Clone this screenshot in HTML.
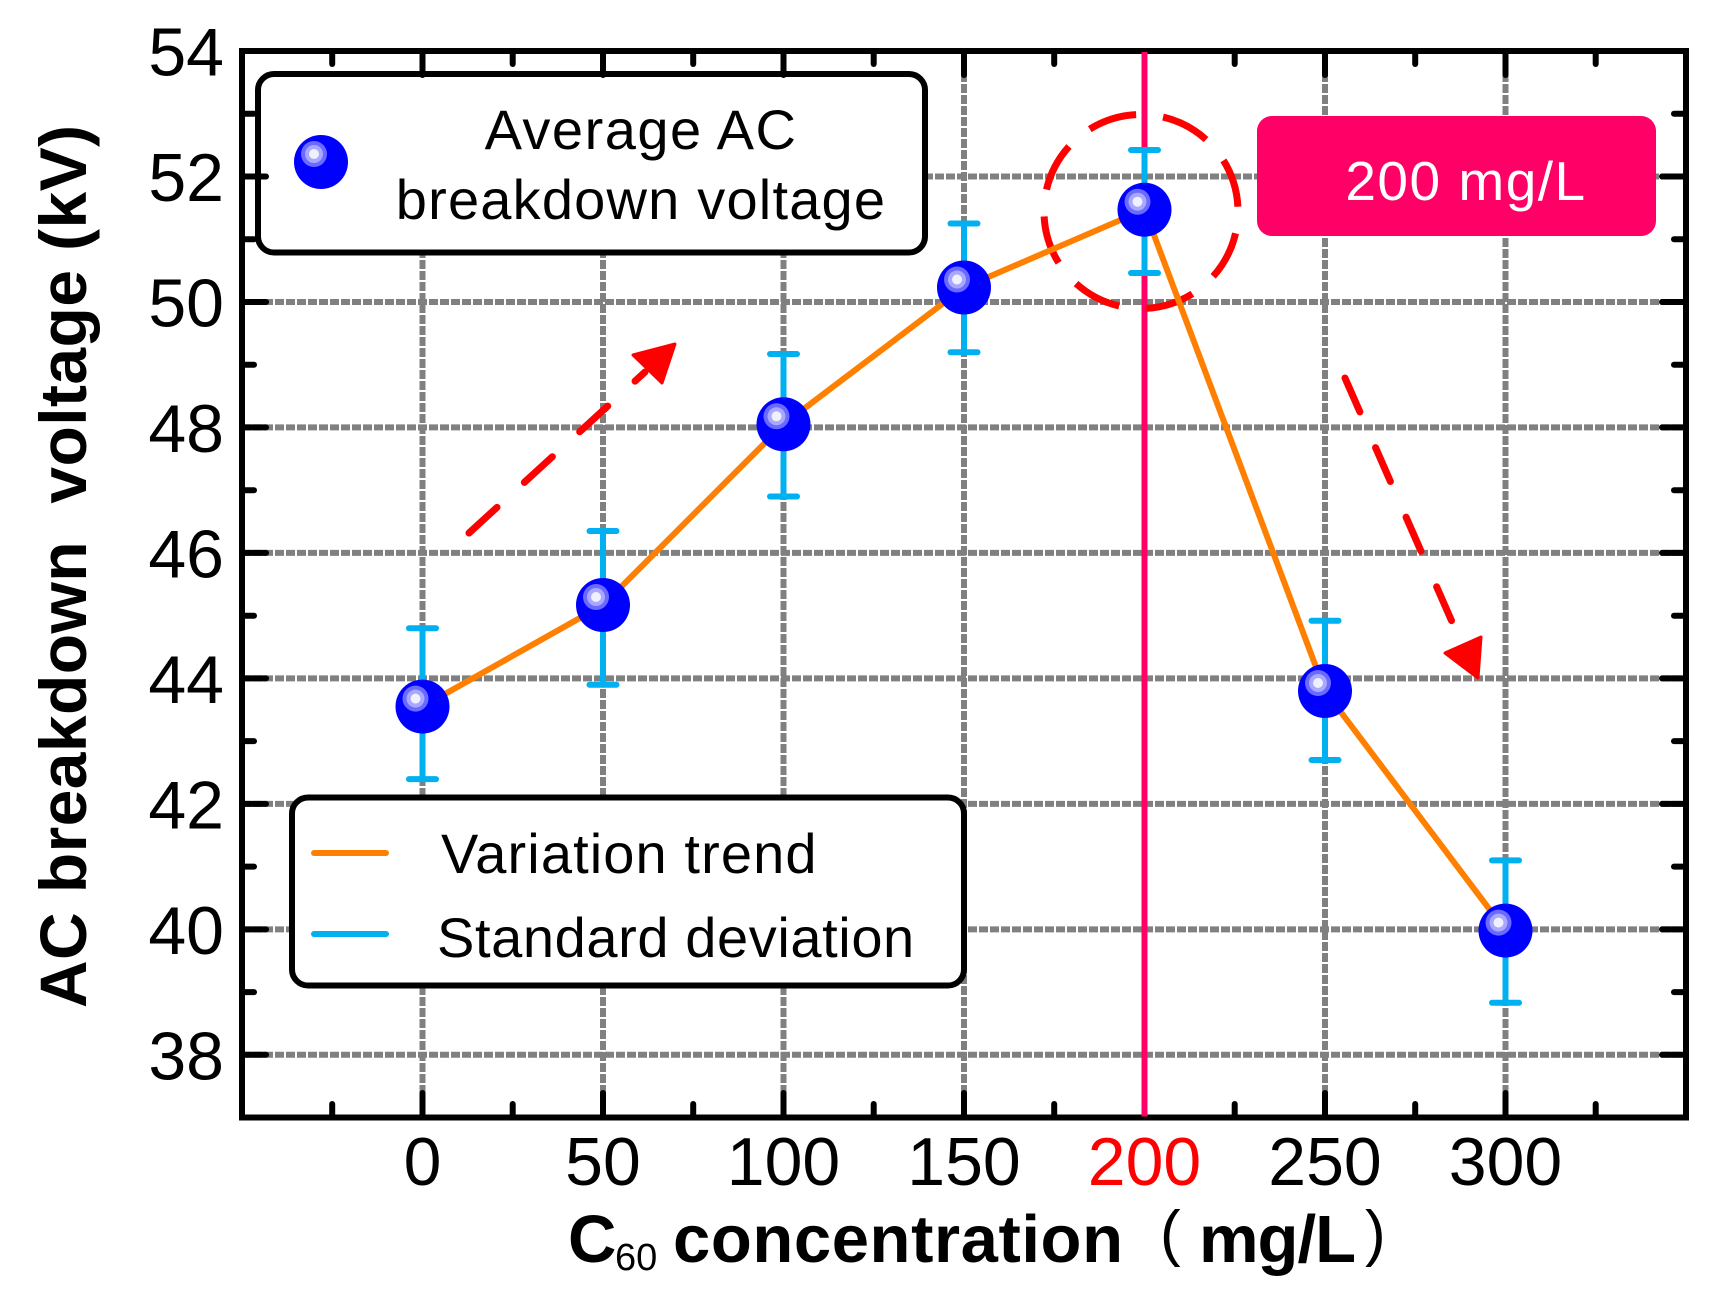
<!DOCTYPE html>
<html>
<head>
<meta charset="utf-8">
<style>
  html, body { margin: 0; padding: 0; background: #ffffff; }
  svg { display: block; }
  text { font-family: "Liberation Sans", Arial, sans-serif; }
</style>
</head>
<body>
<svg width="1725" height="1295" viewBox="0 0 1725 1295" xmlns="http://www.w3.org/2000/svg">
  <rect x="0" y="0" width="1725" height="1295" fill="#ffffff"/>

  <g stroke="#808080" stroke-width="6" stroke-dasharray="9 2" fill="none">
    <line x1="422.5" y1="51" x2="422.5" y2="1117.5"/>
    <line x1="603" y1="51" x2="603" y2="1117.5"/>
    <line x1="783.5" y1="51" x2="783.5" y2="1117.5"/>
    <line x1="964" y1="51" x2="964" y2="1117.5"/>
    <line x1="1144.5" y1="51" x2="1144.5" y2="1117.5"/>
    <line x1="1325" y1="51" x2="1325" y2="1117.5"/>
    <line x1="1505.5" y1="51" x2="1505.5" y2="1117.5"/>
    <line x1="242" y1="176.5" x2="1686" y2="176.5"/>
    <line x1="242" y1="302" x2="1686" y2="302"/>
    <line x1="242" y1="427.4" x2="1686" y2="427.4"/>
    <line x1="242" y1="552.9" x2="1686" y2="552.9"/>
    <line x1="242" y1="678.4" x2="1686" y2="678.4"/>
    <line x1="242" y1="803.9" x2="1686" y2="803.9"/>
    <line x1="242" y1="929.4" x2="1686" y2="929.4"/>
    <line x1="242" y1="1054.8" x2="1686" y2="1054.8"/>
  </g>

  <rect x="258" y="74" width="667" height="178.5" rx="16" ry="16" fill="#ffffff" stroke="#000000" stroke-width="6"/>
  <g transform="translate(321,162)">
    <circle cx="0" cy="0" r="27" fill="#0000FF"/>
    <circle cx="-7" cy="-8" r="13" fill="#6A6AFF"/>
    <circle cx="-7" cy="-8" r="9" fill="#A8A8FF"/>
    <circle cx="-7" cy="-8" r="5" fill="#F0F0FF"/>
  </g>
  <text x="641" y="149" font-size="56" text-anchor="middle" letter-spacing="1.5" fill="#000">Average AC</text>
  <text x="641" y="219" font-size="56" text-anchor="middle" letter-spacing="1.2" fill="#000">breakdown voltage</text>

  <rect x="292" y="797.5" width="672" height="188" rx="16" ry="16" fill="#ffffff" stroke="#000000" stroke-width="6"/>
  <line x1="314" y1="853" x2="386" y2="853" stroke="#FF8000" stroke-width="6" stroke-linecap="round"/>
  <line x1="314" y1="934" x2="386" y2="934" stroke="#00B0F0" stroke-width="6" stroke-linecap="round"/>
  <text x="441" y="873" font-size="56" letter-spacing="1.1" fill="#000">Variation trend</text>
  <text x="437" y="957" font-size="56" letter-spacing="0.6" fill="#000">Standard deviation</text>

  <rect x="1257" y="116" width="399" height="120" rx="15" ry="15" fill="#FF0066"/>
  <text x="1466" y="200" font-size="55" text-anchor="middle" letter-spacing="1.5" fill="#ffffff">200 mg/L</text>

  <rect x="242" y="51" width="1444" height="1066.5" fill="none" stroke="#000000" stroke-width="6"/>

  <g stroke="#000000" stroke-width="6" stroke-linecap="round">
    <line x1="242" y1="176.5" x2="266" y2="176.5"/>
    <line x1="242" y1="302" x2="266" y2="302"/>
    <line x1="242" y1="427.4" x2="266" y2="427.4"/>
    <line x1="242" y1="552.9" x2="266" y2="552.9"/>
    <line x1="242" y1="678.4" x2="266" y2="678.4"/>
    <line x1="242" y1="803.9" x2="266" y2="803.9"/>
    <line x1="242" y1="929.4" x2="266" y2="929.4"/>
    <line x1="242" y1="1054.8" x2="266" y2="1054.8"/>
    <line x1="242" y1="113.7" x2="254" y2="113.7"/>
    <line x1="242" y1="239.2" x2="254" y2="239.2"/>
    <line x1="242" y1="364.7" x2="254" y2="364.7"/>
    <line x1="242" y1="490.2" x2="254" y2="490.2"/>
    <line x1="242" y1="615.7" x2="254" y2="615.7"/>
    <line x1="242" y1="741.1" x2="254" y2="741.1"/>
    <line x1="242" y1="866.6" x2="254" y2="866.6"/>
    <line x1="242" y1="992.1" x2="254" y2="992.1"/>
    <line x1="1686" y1="176.5" x2="1662" y2="176.5"/>
    <line x1="1686" y1="302" x2="1662" y2="302"/>
    <line x1="1686" y1="427.4" x2="1662" y2="427.4"/>
    <line x1="1686" y1="552.9" x2="1662" y2="552.9"/>
    <line x1="1686" y1="678.4" x2="1662" y2="678.4"/>
    <line x1="1686" y1="803.9" x2="1662" y2="803.9"/>
    <line x1="1686" y1="929.4" x2="1662" y2="929.4"/>
    <line x1="1686" y1="1054.8" x2="1662" y2="1054.8"/>
    <line x1="1686" y1="113.7" x2="1674" y2="113.7"/>
    <line x1="1686" y1="239.2" x2="1674" y2="239.2"/>
    <line x1="1686" y1="364.7" x2="1674" y2="364.7"/>
    <line x1="1686" y1="490.2" x2="1674" y2="490.2"/>
    <line x1="1686" y1="615.7" x2="1674" y2="615.7"/>
    <line x1="1686" y1="741.1" x2="1674" y2="741.1"/>
    <line x1="1686" y1="866.6" x2="1674" y2="866.6"/>
    <line x1="1686" y1="992.1" x2="1674" y2="992.1"/>
    <line x1="422.5" y1="1117.5" x2="422.5" y2="1093"/>
    <line x1="603" y1="1117.5" x2="603" y2="1093"/>
    <line x1="783.5" y1="1117.5" x2="783.5" y2="1093"/>
    <line x1="964" y1="1117.5" x2="964" y2="1093"/>
    <line x1="1325" y1="1117.5" x2="1325" y2="1093"/>
    <line x1="1505.5" y1="1117.5" x2="1505.5" y2="1093"/>
    <line x1="332.2" y1="1117.5" x2="332.2" y2="1104"/>
    <line x1="512.7" y1="1117.5" x2="512.7" y2="1104"/>
    <line x1="693.2" y1="1117.5" x2="693.2" y2="1104"/>
    <line x1="873.7" y1="1117.5" x2="873.7" y2="1104"/>
    <line x1="1054.2" y1="1117.5" x2="1054.2" y2="1104"/>
    <line x1="1234.7" y1="1117.5" x2="1234.7" y2="1104"/>
    <line x1="1415.2" y1="1117.5" x2="1415.2" y2="1104"/>
    <line x1="1595.7" y1="1117.5" x2="1595.7" y2="1104"/>
    <line x1="422.5" y1="51" x2="422.5" y2="75"/>
    <line x1="603" y1="51" x2="603" y2="75"/>
    <line x1="783.5" y1="51" x2="783.5" y2="75"/>
    <line x1="964" y1="51" x2="964" y2="75"/>
    <line x1="1325" y1="51" x2="1325" y2="75"/>
    <line x1="1505.5" y1="51" x2="1505.5" y2="75"/>
    <line x1="332.2" y1="51" x2="332.2" y2="64"/>
    <line x1="512.7" y1="51" x2="512.7" y2="64"/>
    <line x1="693.2" y1="51" x2="693.2" y2="64"/>
    <line x1="873.7" y1="51" x2="873.7" y2="64"/>
    <line x1="1054.2" y1="51" x2="1054.2" y2="64"/>
    <line x1="1234.7" y1="51" x2="1234.7" y2="64"/>
    <line x1="1415.2" y1="51" x2="1415.2" y2="64"/>
    <line x1="1595.7" y1="51" x2="1595.7" y2="64"/>
  </g>

  <line x1="1144.5" y1="52" x2="1144.5" y2="1116.5" stroke="#FF0066" stroke-width="6"/>

  <circle cx="1141" cy="211.5" r="97" fill="none" stroke="#FF0000" stroke-width="7" stroke-dasharray="49 27.2" stroke-dashoffset="-22"/>

  <polyline points="422.5,706.6 603,605 783.5,424.3 964,287.5 1144.5,209.7 1325,691 1505.5,930.6" fill="none" stroke="#FF8000" stroke-width="6" stroke-linejoin="round"/>

  <g stroke="#00B0F0" stroke-width="6" stroke-linecap="round" fill="none">
    <line x1="422.5" y1="628.3" x2="422.5" y2="779.1"/>
    <line x1="409" y1="628.3" x2="436" y2="628.3"/>
    <line x1="409" y1="779.1" x2="436" y2="779.1"/>
    <line x1="603" y1="531" x2="603" y2="684.7"/>
    <line x1="589.5" y1="531" x2="616.5" y2="531"/>
    <line x1="589.5" y1="684.7" x2="616.5" y2="684.7"/>
    <line x1="783.5" y1="354" x2="783.5" y2="496.5"/>
    <line x1="770" y1="354" x2="797" y2="354"/>
    <line x1="770" y1="496.5" x2="797" y2="496.5"/>
    <line x1="964" y1="223.5" x2="964" y2="352.2"/>
    <line x1="950.5" y1="223.5" x2="977.5" y2="223.5"/>
    <line x1="950.5" y1="352.2" x2="977.5" y2="352.2"/>
    <line x1="1144.5" y1="150" x2="1144.5" y2="273"/>
    <line x1="1131" y1="150" x2="1158" y2="150"/>
    <line x1="1131" y1="273" x2="1158" y2="273"/>
    <line x1="1325" y1="620.7" x2="1325" y2="760"/>
    <line x1="1311.5" y1="620.7" x2="1338.5" y2="620.7"/>
    <line x1="1311.5" y1="760" x2="1338.5" y2="760"/>
    <line x1="1505.5" y1="860.4" x2="1505.5" y2="1002.8"/>
    <line x1="1492" y1="860.4" x2="1519" y2="860.4"/>
    <line x1="1492" y1="1002.8" x2="1519" y2="1002.8"/>
  </g>

  <defs>
    <g id="ball">
      <circle cx="0" cy="0" r="27" fill="#0000FF"/>
      <circle cx="-7" cy="-8" r="13" fill="#6A6AFF"/>
      <circle cx="-7" cy="-8" r="9" fill="#A8A8FF"/>
      <circle cx="-7" cy="-8" r="5" fill="#F0F0FF"/>
    </g>
  </defs>
  <use href="#ball" x="422.5" y="706.6"/>
  <use href="#ball" x="603" y="605"/>
  <use href="#ball" x="783.5" y="424.3"/>
  <use href="#ball" x="964" y="287.5"/>
  <use href="#ball" x="1144.5" y="209.7"/>
  <use href="#ball" x="1325" y="691"/>
  <use href="#ball" x="1505.5" y="930.6"/>

  <line x1="469" y1="533" x2="645" y2="372" stroke="#FF0000" stroke-width="7" stroke-linecap="round" stroke-dasharray="38 37"/>
  <polygon points="675,344 633,355 662,383" fill="#FF0000" stroke="#FF0000" stroke-width="3" stroke-linejoin="round"/>
  <line x1="1345" y1="378" x2="1460" y2="640" stroke="#FF0000" stroke-width="7" stroke-linecap="round" stroke-dasharray="37 39"/>
  <polygon points="1478,678 1445,653 1481,637" fill="#FF0000" stroke="#FF0000" stroke-width="3" stroke-linejoin="round"/>

  <g font-size="68" text-anchor="end" fill="#000">
    <text x="224" y="75.5">54</text>
    <text x="224" y="201">52</text>
    <text x="224" y="326.5">50</text>
    <text x="224" y="452">48</text>
    <text x="224" y="577.4">46</text>
    <text x="224" y="702.9">44</text>
    <text x="224" y="828.4">42</text>
    <text x="224" y="953.9">40</text>
    <text x="224" y="1079.3">38</text>
  </g>

  <g font-size="68" text-anchor="middle" fill="#000">
    <text x="422.5" y="1185">0</text>
    <text x="603" y="1185">50</text>
    <text x="783.5" y="1185">100</text>
    <text x="964" y="1185">150</text>
    <text x="1144.5" y="1185" fill="#FF0000">200</text>
    <text x="1325" y="1185">250</text>
    <text x="1505.5" y="1185">300</text>
  </g>

  <text x="568" y="1262" font-size="67" font-weight="bold" fill="#000">C</text>
  <text x="615" y="1270" font-size="38" fill="#000">60</text>
  <text x="673" y="1262" font-size="67" font-weight="bold" fill="#000" textLength="450" lengthAdjust="spacing">concentration</text>
  <text x="1160" y="1254" font-size="62" fill="#000">(</text>
  <text x="1199" y="1262" font-size="67" font-weight="bold" fill="#000" textLength="157" lengthAdjust="spacing">mg/L</text>
  <text x="1365" y="1254" font-size="62" fill="#000">)</text>

  <g transform="translate(86,1008) rotate(-90)">
    <text x="0" y="0" font-size="66" font-weight="bold" fill="#000" xml:space="preserve" style="white-space:pre" textLength="883" lengthAdjust="spacing">AC breakdown  voltage (kV)</text>
  </g>
</svg>
</body>
</html>
